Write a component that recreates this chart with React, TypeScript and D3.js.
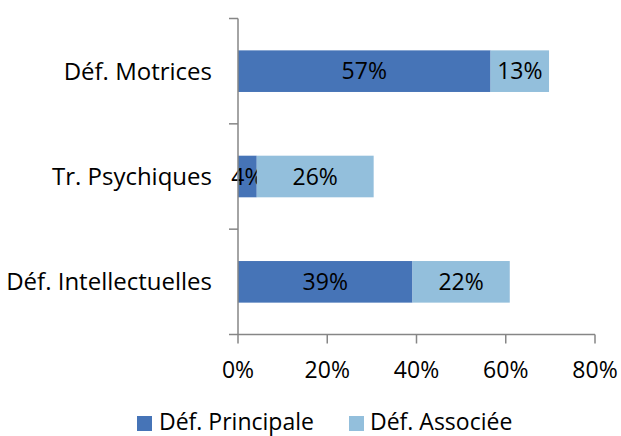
import * as d3 from 'd3';

const categories = ['Déf. Motrices', 'Tr. Psychiques', 'Déf. Intellectuelles'];
const principale = [56.6, 4.2, 39.1];
const associee = [13.1, 26.2, 21.8];
const seriesNames = ['Déf. Principale', 'Déf. Associée'];
const xTicks = [0, 20, 40, 60, 80];

const colors = ['#4674B7', '#93BFDC'];
const font = "'Open Sans', sans-serif";

export default function App() {
  const width = 621;
  const height = 436;

  const x = d3.scaleLinear().domain([0, 80]).range([238, 595]);
  const y = d3.scaleBand<string>()
    .domain(categories)
    .range([18.5, 334.5])
    .paddingInner(0.605)
    .paddingOuter(0.3025);

  const rows = categories.map((c, i) => ({ cat: c, p: principale[i], a: associee[i] }));
  const stack = d3.stack<any>().keys(['p', 'a']);
  const layers = stack(rows);

  const step = y.step();
  const bounds = [0, 1, 2, 3].map(i => y.range()[0] + i * step);
  const axisY = y.range()[1];
  const fs = 23;
  const catFs = 24;

  // legend layout
  const legend = [
    { sx: 137, tx: 159 },
    { sx: 349, tx: 370 },
  ];

  return (
    <svg width={width} height={height} style={{ position: 'absolute', left: 0, top: 0, background: '#fff' }}>
      {/* bars */}
      {layers.map((layer, li) => (
        <g key={li}>
          {layer.map((d, i) => {
            const x0 = x(d[0]);
            const x1 = x(d[1]);
            const yy = y(categories[i])!;
            const val = d[1] - d[0];
            return (
              <g key={i}>
                <rect x={x0} y={yy} width={x1 - x0} height={y.bandwidth()} fill={colors[li]} />
                <text
                  x={(x0 + x1) / 2}
                  y={yy + y.bandwidth() / 2 + fs * 0.36}
                  textAnchor="middle"
                  fontFamily={font}
                  fontSize={fs}
                  fill="#000"
                >
                  {Math.round(val)}%
                </text>
              </g>
            );
          })}
        </g>
      ))}

      {/* y axis */}
      <line x1={x(0)} x2={x(0)} y1={bounds[0]} y2={axisY} stroke="#868686" strokeWidth={1.5} />
      {bounds.map((b, i) => (
        <line key={i} x1={x(0) - 9} x2={x(0)} y1={b} y2={b} stroke="#868686" strokeWidth={1.5} />
      ))}
      {categories.map(c => (
        <text
          key={c}
          x={212}
          y={y(c)! + y.bandwidth() / 2 + catFs * 0.36}
          textAnchor="end"
          fontFamily={font}
          fontSize={catFs}
          fill="#000"
        >
          {c}
        </text>
      ))}

      {/* x axis */}
      <line x1={x(0)} x2={x(80)} y1={axisY} y2={axisY} stroke="#868686" strokeWidth={1.5} />
      {xTicks.map(t => (
        <g key={t}>
          <line x1={x(t)} x2={x(t)} y1={axisY} y2={axisY + 9} stroke="#868686" strokeWidth={1.5} />
          <text x={x(t)} y={378} textAnchor="middle" fontFamily={font} fontSize={fs} fill="#000">
            {t}%
          </text>
        </g>
      ))}

      {/* legend */}
      {seriesNames.map((s, i) => (
        <g key={s}>
          <rect x={legend[i].sx} y={416} width={15} height={15} fill={colors[i]} />
          <text x={legend[i].tx} y={430} fontFamily={font} fontSize={fs} fill="#000">
            {s}
          </text>
        </g>
      ))}
    </svg>
  );
}
